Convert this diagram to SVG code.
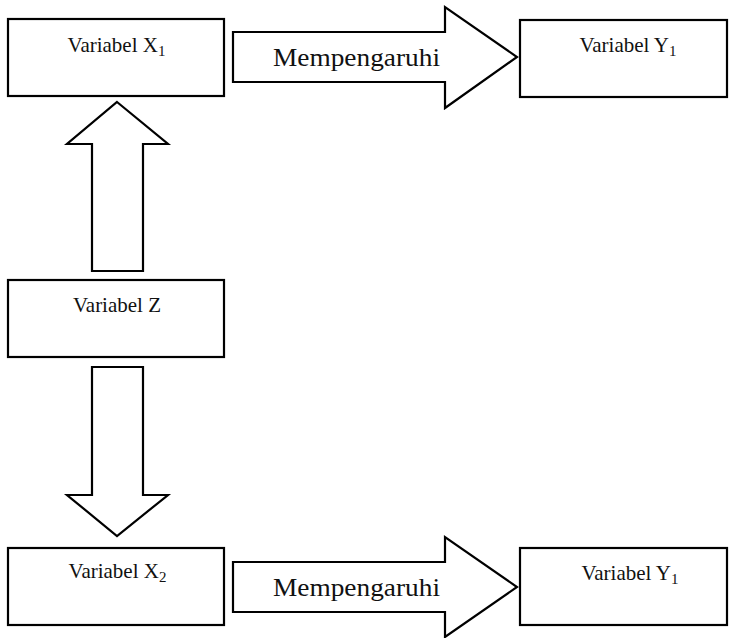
<svg xmlns="http://www.w3.org/2000/svg" width="729" height="638" viewBox="0 0 729 638">
<style>
.box{fill:#fff;stroke:#000;stroke-width:2.2}
.arr{fill:#fff;stroke:#000;stroke-width:2.2;stroke-linejoin:miter}
text{font-family:'Liberation Serif','Times New Roman',serif;fill:#111}
.lbl{font-size:21px;text-anchor:middle}
.sub{font-size:15px}
.big{font-size:26px}
</style>
<rect width="729" height="638" fill="#fff"/>
<g id="connectors">
<polygon class="arr" points="233,32 445,32 445,7 517,57 445,108 445,82 233,82"/>
<text class="big" x="273" y="66" textLength="167" lengthAdjust="spacingAndGlyphs">Mempengaruhi</text>
<polygon class="arr" points="233,562 445,562 445,537 517,587 445,637 445,612 233,612"/>
<text class="big" x="273" y="596" textLength="167" lengthAdjust="spacingAndGlyphs">Mempengaruhi</text>
<polygon class="arr" points="117,102 168,144 143,144 143,271 92,271 92,144 67,144"/>
<polygon class="arr" points="92,367 143,367 143,495 168,495 117,536 67,495 92,495"/>
</g>
<g id="x1">
<rect class="box" x="8" y="19" width="216" height="77"/>
<text class="lbl" x="116.5" y="52">Variabel X<tspan class="sub" dy="4">1</tspan></text>
</g>
<g id="y1-top">
<rect class="box" x="520" y="20" width="207" height="77"/>
<text class="lbl" x="628" y="52">Variabel Y<tspan class="sub" dy="4">1</tspan></text>
</g>
<g id="z">
<rect class="box" x="8" y="280" width="216" height="77"/>
<text class="lbl" x="117" y="312">Variabel Z</text>
</g>
<g id="x2">
<rect class="box" x="8" y="548" width="216" height="77"/>
<text class="lbl" x="117.5" y="578">Variabel X<tspan class="sub" dy="4">2</tspan></text>
</g>
<g id="y1-bottom">
<rect class="box" x="520" y="548" width="207" height="77"/>
<text class="lbl" x="630" y="580">Variabel Y<tspan class="sub" dy="4">1</tspan></text>
</g>
</svg>
